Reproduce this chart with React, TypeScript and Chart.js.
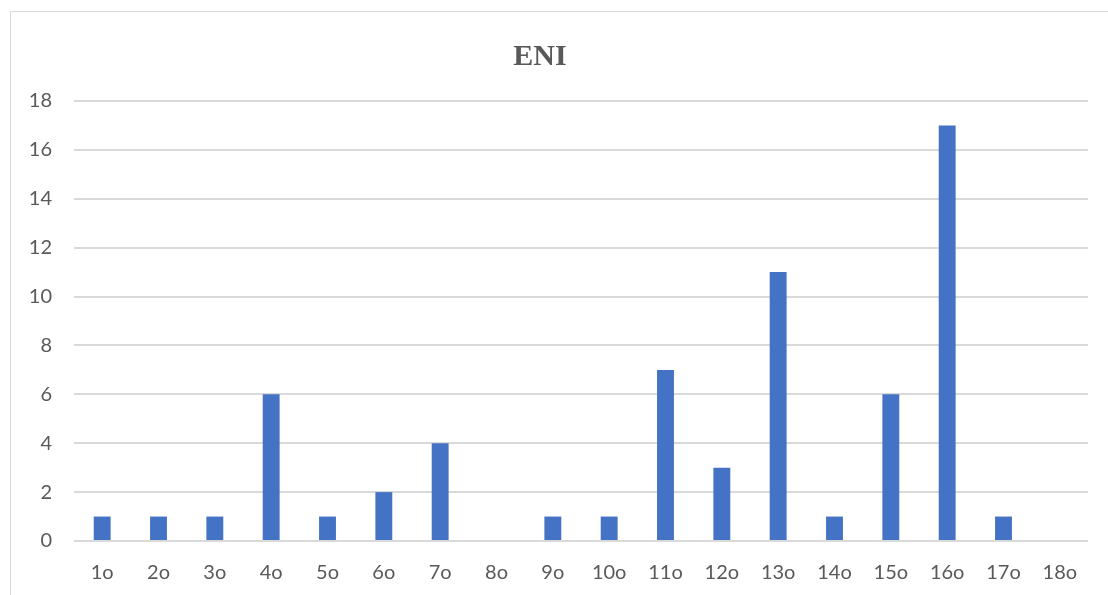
import React, { useEffect, useRef } from "react";
import { Chart, registerables } from "chart.js";

Chart.register(...registerables);

const categories = ["1o", "2o", "3o", "4o", "5o", "6o", "7o", "8o", "9o", "10o", "11o", "12o", "13o", "14o", "15o", "16o", "17o", "18o"];
const values = [1, 1, 1, 6, 1, 2, 4, 0, 1, 1, 7, 3, 11, 1, 6, 17, 1, 0];
const yTicks = [0, 2, 4, 6, 8, 10, 12, 14, 16, 18];
const titleText = "ENI";

const TEXT = "#595959";
const GRID = "#d9d9d9";
const BAR = "#4472C4";
const TICK_FONT = "Lato";

// Title drawn centred on the frame rather than on the plot area.
const frameTitle = {
  id: "frameTitle",
  afterDraw(chart: Chart) {
    const ctx = chart.ctx;
    ctx.save();
    ctx.font = "bold 30px 'Liberation Serif', 'Times New Roman', serif";
    ctx.fillStyle = TEXT;
    ctx.textAlign = "center";
    ctx.textBaseline = "middle";
    ctx.fillText(titleText, 540, 57);
    ctx.restore();
  },
};

export default function App() {
  const canvasRef = useRef<HTMLCanvasElement | null>(null);

  useEffect(() => {
    if (!canvasRef.current) return;
    const chart = new Chart(canvasRef.current, {
      type: "bar",
      data: {
        labels: categories,
        datasets: [
          {
            label: titleText,
            data: values,
            backgroundColor: BAR,
            borderWidth: 0,
            barPercentage: 0.3,
            categoryPercentage: 1,
          },
        ],
      },
      options: {
        animation: false,
        responsive: false,
        maintainAspectRatio: false,
        layout: { padding: { top: 101, right: 20, bottom: 0, left: 0 } },
        plugins: {
          legend: { display: false },
          title: { display: false },
          tooltip: { enabled: false },
        },
        scales: {
          x: {
            grid: { display: false, drawTicks: false },
            border: { display: false },
            ticks: {
              color: TEXT,
              font: { family: TICK_FONT, size: 20 },
              padding: 20,
              maxRotation: 0,
              autoSkip: false,
            },
            afterFit: (scale: any) => {
              scale.height = 54;
            },
          },
          y: {
            min: 0,
            max: 18,
            afterBuildTicks: (scale: any) => {
              scale.ticks = yTicks.map((v) => ({ value: v }));
            },
            grid: { color: GRID, lineWidth: 2, drawTicks: false },
            border: { display: false },
            ticks: {
              color: TEXT,
              font: { family: TICK_FONT, size: 20 },
              padding: 22,
            },
            afterFit: (scale: any) => {
              scale.width = 74;
            },
          },
        },
      },
      plugins: [frameTitle],
    });
    return () => chart.destroy();
  }, []);

  return (
    <div
      style={{
        position: "fixed",
        left: 0,
        top: 0,
        width: 1108,
        height: 595,
        overflow: "hidden",
        background: "#ffffff",
      }}
    >
      <div
        style={{
          position: "absolute",
          left: 10,
          top: 11,
          width: 1200,
          height: 700,
          border: "1px solid #d9d9d9",
          boxSizing: "border-box",
        }}
      />
      <canvas
        ref={canvasRef}
        width={1108}
        height={595}
        style={{ position: "absolute", left: 0, top: 0 }}
      />
    </div>
  );
}
